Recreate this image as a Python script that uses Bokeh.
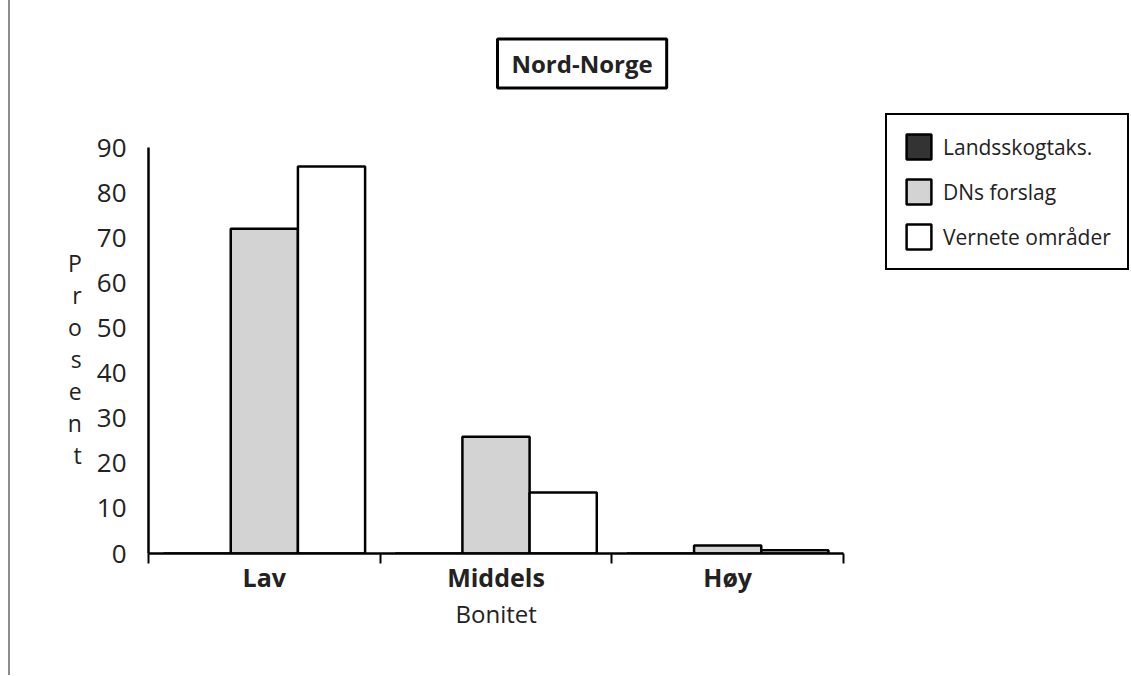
import numpy as np
from bokeh.plotting import figure
from bokeh.models import Range1d, FixedTicker, Legend, LegendItem, Title
from bokeh.embed import file_html
from bokeh.resources import INLINE

categories = ["Lav", "Middels", "Høy"]
series_names = ["Landsskogtaks.", "DNs forslag", "Vernete områder"]
landsskog = [0, 0, 0]
dns_forslag = [72, 25.9, 1.8]
vernete = [85.8, 13.5, 0.7]
y_ticks = [0, 10, 20, 30, 40, 50, 60, 70, 80, 90]

FONT = "Open Sans"
TXT = "#222222"

# frame: x 148..1130 px (3 categories occupy 148..843), y 100..553 px (0..90 occupies 147..553)
X_END = len(categories) * (1130 - 148) / (843 - 148)
Y_END = 90 * (553 - 100) / (553 - 147)

p = figure(width=1130, height=675, output_backend="svg", toolbar_location=None,
           x_range=Range1d(0, X_END), y_range=Range1d(0, Y_END),
           min_border_left=148, min_border_right=0, min_border_top=100,
           min_border_bottom=122)
p.outline_line_color = None
p.grid.grid_line_color = None
p.background_fill_color = "white"
p.border_fill_color = None
p.styles = {"background": "linear-gradient(90deg, #ffffff 8px, #8c8c8c 8px, #8c8c8c 10px, #ffffff 10px)"}

idx = np.arange(len(categories)) + 0.5
w = 0.29
fills = ["#333333", "#d3d3d3", "#ffffff"]
vals = [landsskog, dns_forslag, vernete]
renderers = []
for k, (v, c) in enumerate(zip(vals, fills)):
    r = p.vbar(x=idx + (k - 1) * w, top=v, bottom=0, width=w, fill_color=c,
               line_color="black", line_width=2.5)
    renderers.append(r)

# x axis: labels at centres, ticks at category boundaries
xa = p.xaxis[0]
xa.bounds = (0, len(categories))
xa.ticker = FixedTicker(ticks=list(idx), minor_ticks=list(range(len(categories) + 1)))
xa.major_label_overrides = {float(i): c for i, c in zip(idx, categories)}
xa.major_tick_out = 0
xa.major_tick_in = 0
xa.minor_tick_out = 10
xa.minor_tick_in = 0
xa.minor_tick_line_color = "black"
xa.minor_tick_line_width = 2
xa.axis_line_width = 2.5
xa.axis_line_color = "black"
xa.major_label_text_font = FONT
xa.major_label_text_font_style = "bold"
xa.major_label_text_font_size = "25px"
xa.major_label_text_color = TXT
xa.major_label_standoff = -4

p.add_layout(Title(text="Bonitet", align="left", offset=307, standoff=-3,
                   text_font=FONT, text_font_style="normal", text_font_size="24px",
                   text_color=TXT), "below")

ya = p.yaxis[0]
ya.ticker = FixedTicker(ticks=y_ticks)
ya.bounds = (0, 90)
ya.major_tick_out = 0
ya.major_tick_in = 0
ya.minor_tick_out = 0
ya.minor_tick_in = 0
ya.axis_line_width = 2.5
ya.axis_line_color = "black"
ya.major_label_text_font = FONT
ya.major_label_text_font_size = "26px"
ya.major_label_text_color = TXT
ya.major_label_standoff = 22
ya.axis_label = "\n\nP\nr\no\ns\ne\nn\nt"
ya.axis_label_orientation = "horizontal"
ya.axis_label_text_font = FONT
ya.axis_label_text_font_style = "normal"
ya.axis_label_text_font_size = "23px"
ya.axis_label_text_line_height = 1.0
ya.axis_label_text_color = TXT
ya.axis_label_standoff = 12

# boxed title
p.title = Title(text="Nord-Norge", align="left", offset=349, standoff=25,
                text_font=FONT, text_font_style="bold", text_font_size="24px",
                text_color=TXT, border_line_color="black", border_line_width=3,
                background_fill_color="white",
                padding=dict(left=14, right=14, top=8, bottom=8))

legend = Legend(items=[LegendItem(label=n, renderers=[r]) for n, r in zip(series_names, renderers)],
                location=(737, 283), margin=0, padding=16, spacing=14,
                glyph_width=31, glyph_height=31, label_height=31, label_standoff=9,
                label_text_font=FONT, label_text_font_size="21px",
                label_text_color=TXT, border_line_color="black", border_line_alpha=1.0,
                border_line_width=2, background_fill_color="white")
p.add_layout(legend, "center")

open("out.html", "w").write(file_html(p, INLINE))
